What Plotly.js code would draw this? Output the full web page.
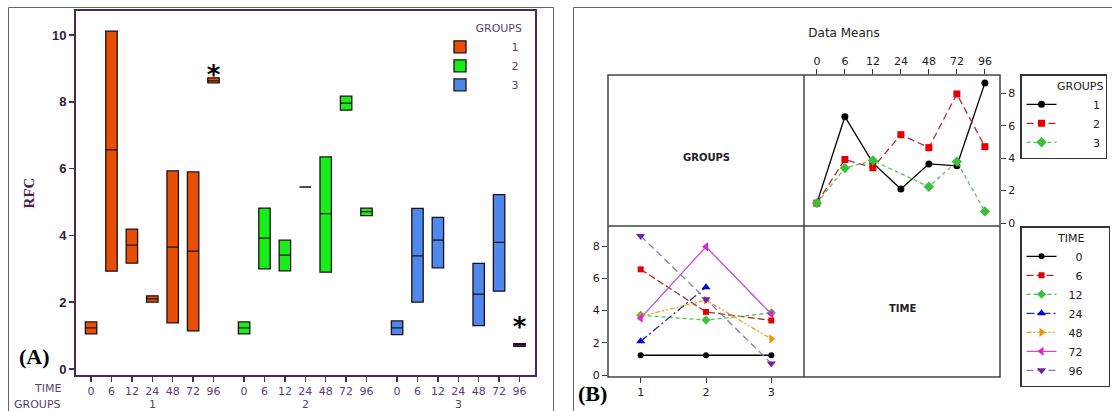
<!DOCTYPE html>
<html><head><meta charset="utf-8">
<script src="https://cdn.plot.ly/plotly-3.0.1.min.js"></script>
<style>html,body{margin:0;padding:0;background:#fff}#chart{width:1112px;height:411px}</style>
</head><body><div id="chart"></div>
<script>
// ---------- data ----------
const times = ["0","6","12","24","48","72","96"];
const groups = ["1","2","3"];
// Panel A: interval boxes (min / mean / max) per GROUP and TIME
const g1Min  = [1.05, 2.93, 3.17, 2.00, 1.38, 1.14, 8.57];
const g1Mean = [1.23, 6.56, 3.71, 2.10, 3.65, 3.53, 8.63];
const g1Max  = [1.41, 10.12, 4.19, 2.19, 5.93, 5.90, 8.72];
const g2Min  = [1.05, 3.00, 2.94, 5.45, 2.90, 7.75, 4.59];
const g2Mean = [1.23, 3.92, 3.41, 5.45, 4.65, 7.96, 4.71];
const g2Max  = [1.41, 4.82, 3.86, 5.45, 6.35, 8.17, 4.82];
const g3Min  = [1.03, 2.00, 3.03, null, 1.30, 2.33, 0.68];
const g3Mean = [1.23, 3.39, 3.86, null, 2.24, 3.79, 0.72];
const g3Max  = [1.44, 4.81, 4.54, null, 3.16, 5.22, 0.76];
// asterisk markers (group, time, height)
const starGroup = ["1","3"];
const starTime  = ["96","96"];
const starY     = [8.74, 1.17];

// ---------- styles ----------
const W = 1112, H = 411;
const fx = p => p / W, fy = p => 1 - p / H;
const boxColors = ["#e84e05", "#1aee1a", "#4d88ec"];
const mins = [g1Min, g2Min, g3Min], means = [g1Mean, g2Mean, g3Mean], maxs = [g1Max, g2Max, g3Max];
const axisA = "#4a2a4e";
const groupStyles = [
  {line:{color:"#000000", width:1.3, dash:"solid"}, marker:{symbol:"circle", color:"#000000", size:7}},
  {line:{color:"#b52a2a", width:1.3, dash:"7px,4px"}, marker:{symbol:"square", color:"#e80000", size:7}},
  {line:{color:"#5cc05c", width:1.3, dash:"4px,3px"}, marker:{symbol:"diamond", color:"#3cc03c", size:8}}
];
const timeStyles = [
  {line:{color:"#000000", width:1.3, dash:"solid"}, marker:{symbol:"circle", color:"#000000", size:6}},
  {line:{color:"#a83030", width:1.3, dash:"7px,3px"}, marker:{symbol:"square", color:"#e00000", size:6}},
  {line:{color:"#50c050", width:1.3, dash:"4px,3px"}, marker:{symbol:"diamond", color:"#40c040", size:7}},
  {line:{color:"#303090", width:1.3, dash:"8px,3px,2px,3px"}, marker:{symbol:"triangle-up", color:"#0000e0", size:8}},
  {line:{color:"#f0a020", width:1.3, dash:"5px,2px,2px,2px,2px,2px"}, marker:{symbol:"triangle-right", color:"#f09000", size:8}},
  {line:{color:"#c050d0", width:1.3, dash:"solid"}, marker:{symbol:"triangle-left", color:"#e020e0", size:8}},
  {line:{color:"#8878b8", width:1.3, dash:"7px,4px"}, marker:{symbol:"triangle-down", color:"#7020b0", size:8}}
];
const nb = n => "\u00a0".repeat(Math.max(0, n));
const pos = (gi, ti) => gi * 7.5 + ti;

const traces = [];
// Panel A boxes
groups.forEach((g, gi) => {
  const xs = [], q1 = [], md = [], q3 = [];
  times.forEach((t, ti) => {
    if (mins[gi][ti] === null) return;
    xs.push(pos(gi, ti)); q1.push(mins[gi][ti]); md.push(means[gi][ti]); q3.push(maxs[gi][ti]);
  });
  traces.push({type:"box", x:xs, q1:q1, median:md, q3:q3, lowerfence:q1, upperfence:q3,
    width:0.56, whiskerwidth:0, fillcolor:boxColors[gi], line:{color:"#1e1014", width:1.3},
    name:nb(9) + g, legend:"legend", xaxis:"x", yaxis:"y", hoverinfo:"skip", boxpoints:false});
});
traces.push({type:"scatter", mode:"text", x:starGroup.map((g,i)=>pos(groups.indexOf(g), times.indexOf(starTime[i]))),
  y:starY, text:starY.map(()=>"*"), textfont:{family:"DejaVu Sans", size:26, color:"#000", weight:"bold"},
  textposition:"middle center", showlegend:false, xaxis:"x", yaxis:"y", hoverinfo:"skip"});

// Panel B top-right: means vs TIME, one line per GROUP
groups.forEach((g, gi) => {
  traces.push({type:"scatter", mode:"lines+markers", x:times.map((t,ti)=>ti), y:means[gi], connectgaps:true,
    line:groupStyles[gi].line, marker:groupStyles[gi].marker, name:nb(9) + g, legend:"legend2",
    xaxis:"x2", yaxis:"y2", hoverinfo:"skip"});
});
// Panel B bottom-left: means vs GROUPS, one line per TIME
times.forEach((t, ti) => {
  const ys = groups.map((g, gi) => means[gi][ti]);
  traces.push({type:"scatter", mode:"lines+markers", x:groups.map(Number), y:ys,
    line:timeStyles[ti].line, marker:timeStyles[ti].marker, name:nb(4 - 2*(t.length-1)) + t + nb(6), legend:"legend3",
    xaxis:"x3", yaxis:"y3", hoverinfo:"skip"});
});

const tickPosA = [], tickTextA = [];
groups.forEach((g, gi) => times.forEach((t, ti) => { tickPosA.push(pos(gi, ti)); tickTextA.push(t); }));

const baseAx = {showgrid:false, zeroline:false, ticks:"outside", fixedrange:true};
const layout = {
  width:W, height:H, autosize:false, margin:{l:0, r:0, t:0, b:0},
  paper_bgcolor:"#fff", plot_bgcolor:"rgba(0,0,0,0)", boxmode:"overlay", hovermode:false,
  font:{family:"DejaVu Sans", size:11, color:"#222"},
  title:{text:"Data Means", x:fx(844), y:fy(33), xref:"paper", yref:"paper", xanchor:"center", yanchor:"middle",
    font:{family:"DejaVu Sans", size:12, color:"#222"}},
  xaxis:Object.assign({}, baseAx, {domain:[fx(76), fx(535)], range:[-0.74, 21.76], anchor:"y",
    tickvals:tickPosA, ticktext:tickTextA, ticklen:5, tickwidth:1.5, tickcolor:axisA,
    showline:true, mirror:true, linecolor:axisA, linewidth:2,
    tickfont:{family:"DejaVu Sans", size:11, color:"#5a4272"}}),
  yaxis:Object.assign({}, baseAx, {domain:[fy(375), fy(11)], range:[-0.18, 10.72], anchor:"x",
    tickvals:[0,2,4,6,8,10], ticklen:5, tickwidth:1.5, tickcolor:axisA,
    showline:true, mirror:true, linecolor:axisA, linewidth:2,
    tickfont:{family:"Liberation Sans", size:13, color:"#2e2040", weight:"bold"},
    title:{text:"RFC", standoff:14, font:{family:"Liberation Serif", size:15, color:"#4a2040", weight:"bold"}}}),
  xaxis2:Object.assign({}, baseAx, {domain:[fx(804), fx(1000)], range:[-0.46, 6.54], anchor:"y2", side:"top",
    tickvals:times.map((t,ti)=>ti), ticktext:times, ticklen:5, tickcolor:"#333", showline:false,
    tickfont:{family:"DejaVu Sans", size:11, color:"#222"}}),
  yaxis2:Object.assign({}, baseAx, {domain:[fy(226), fy(75)], range:[-0.18, 9.13], anchor:"x2", side:"right",
    tickvals:[0,2,4,6,8], ticklen:5, tickcolor:"#333", showline:false,
    tickfont:{family:"DejaVu Sans", size:11, color:"#222"}}),
  xaxis3:Object.assign({}, baseAx, {domain:[fx(608), fx(804)], range:[0.5, 3.5], anchor:"y3",
    tickvals:groups.map(Number), ticktext:groups, ticklen:5, tickcolor:"#333", showline:false,
    tickfont:{family:"DejaVu Sans", size:11, color:"#222"}}),
  yaxis3:Object.assign({}, baseAx, {domain:[fy(377), fy(226)], range:[-0.12, 9.25], anchor:"x3",
    tickvals:[0,2,4,6,8], ticklen:5, tickcolor:"#333", showline:false,
    tickfont:{family:"DejaVu Sans", size:11, color:"#222"}}),
  legend:{x:fx(440), y:fy(18), xanchor:"left", yanchor:"top", bgcolor:"rgba(0,0,0,0)", borderwidth:0,
    font:{family:"DejaVu Sans", size:11, color:"#5a4272"},
    title:{text:"GROUPS", side:"top right", font:{family:"DejaVu Sans", size:11, color:"#5a4272"}}},
  legend2:{x:fx(1020), y:fy(74), xanchor:"left", yanchor:"top", bgcolor:"#fff", bordercolor:"#333", borderwidth:1.5,
    font:{family:"DejaVu Sans", size:11, color:"#222"},
    title:{text:"GROUPS", side:"top right", font:{family:"DejaVu Sans", size:11, color:"#222"}}},
  legend3:{x:fx(1020), y:fy(226), xanchor:"left", yanchor:"top", bgcolor:"#fff", bordercolor:"#333", borderwidth:1.5,
    font:{family:"DejaVu Sans", size:11, color:"#222"},
    title:{text:"TIME" + nb(6), side:"top right", font:{family:"DejaVu Sans", size:11, color:"#222"}}},
  shapes:[
    {type:"rect", xref:"paper", yref:"paper", x0:fx(8.5), x1:fx(553.5), y0:fy(420), y1:fy(7.5), line:{color:"#666", width:1}},
    {type:"rect", xref:"paper", yref:"paper", x0:fx(573.5), x1:fx(1120), y0:fy(420), y1:fy(7.5), line:{color:"#666", width:1}},
    {type:"rect", xref:"paper", yref:"paper", x0:fx(608), x1:fx(1000), y0:fy(377), y1:fy(75), line:{color:"#444", width:1.5}},
    {type:"line", xref:"paper", yref:"paper", x0:fx(804), x1:fx(804), y0:fy(377), y1:fy(75), line:{color:"#444", width:1.5}},
    {type:"line", xref:"paper", yref:"paper", x0:fx(608), x1:fx(1000), y0:fy(226), y1:fy(226), line:{color:"#444", width:1.5}}
  ],
  annotations:[
    {text:"(A)", xref:"paper", yref:"paper", x:fx(34), y:fy(356), showarrow:false, xanchor:"center", yanchor:"middle",
      font:{family:"Liberation Serif", size:22, color:"#000", weight:"bold"}},
    {text:"(B)", xref:"paper", yref:"paper", x:fx(592), y:fy(393), showarrow:false, xanchor:"center", yanchor:"middle",
      font:{family:"Liberation Serif", size:22, color:"#000", weight:"bold"}},
    {text:"TIME", xref:"paper", yref:"paper", x:fx(63), y:fy(388), showarrow:false, xanchor:"right", yanchor:"middle",
      font:{family:"DejaVu Sans", size:11, color:"#5a4272"}},
    {text:"GROUPS", xref:"paper", yref:"paper", x:fx(63), y:fy(404), showarrow:false, xanchor:"right", yanchor:"middle",
      font:{family:"DejaVu Sans", size:11, color:"#5a4272"}},
    ...groups.map((g, gi) => ({text:g, xref:"x", yref:"paper", x:pos(gi, 3), y:fy(404), showarrow:false,
      xanchor:"center", yanchor:"middle", font:{family:"DejaVu Sans", size:11, color:"#5a4272"}})),
    {text:"<b>GROUPS</b>", xref:"paper", yref:"paper", x:fx(706), y:fy(157), showarrow:false, xanchor:"center", yanchor:"middle",
      font:{family:"DejaVu Sans", size:10, color:"#222"}},
    {text:"<b>TIME</b>", xref:"paper", yref:"paper", x:fx(902), y:fy(308), showarrow:false, xanchor:"center", yanchor:"middle",
      font:{family:"DejaVu Sans", size:10, color:"#222"}}
  ]
};
Plotly.newPlot("chart", traces, layout, {staticPlot:true, displayModeBar:false});
</script>
</body></html>
